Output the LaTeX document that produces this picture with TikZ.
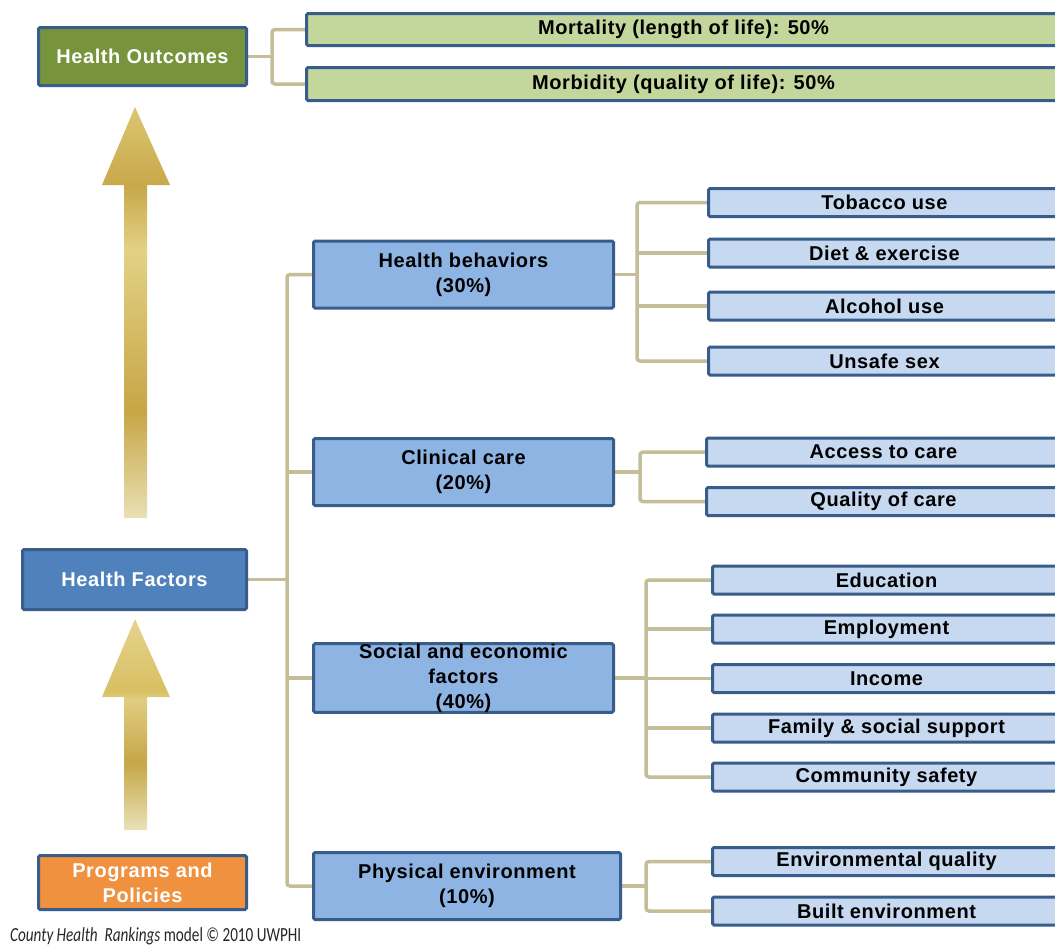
\documentclass[tikz,border=0pt]{standalone}
\usepackage{fontspec}
\newfontfamily\lab{Liberation Sans}[LetterSpace=3]
\newfontfamily\foot{Carlito}
\usetikzlibrary{backgrounds}
\definecolor{conn}{HTML}{C4BD97}
\definecolor{bord}{HTML}{385D8A}
\definecolor{hoC}{HTML}{77933C}
\definecolor{grC}{HTML}{C3D69B}
\definecolor{hfC}{HTML}{4F81BD}
\definecolor{ppC}{HTML}{F0913F}
\definecolor{midC}{HTML}{8EB4E3}
\definecolor{subC}{HTML}{C6D9F1}
\definecolor{gAa}{HTML}{E9E0B4}
\definecolor{gAb}{HTML}{C7A646}
\definecolor{gAc}{HTML}{E3D185}
\definecolor{gAd}{HTML}{C8A84A}
\definecolor{gAe}{HTML}{DCC671}
\definecolor{gBa}{HTML}{E9E1B6}
\definecolor{gBb}{HTML}{C6A748}
\definecolor{gBc}{HTML}{E0CD82}
\definecolor{gBd}{HTML}{D8BF63}
\definecolor{gBe}{HTML}{E6D48E}
\pgfdeclareverticalshading{arrowA}{100bp}{color(0bp)=(gAa); color(25bp)=(gAa); color(38bp)=(gAb); color(57.6bp)=(gAc); color(65.3bp)=(gAd); color(75bp)=(gAe); color(100bp)=(gAe)}
\pgfdeclareverticalshading{arrowB}{100bp}{color(0bp)=(gBa); color(25bp)=(gBa); color(41bp)=(gBb); color(56bp)=(gBc); color(58bp)=(gBd); color(75bp)=(gBe); color(100bp)=(gBe)}
\begin{document}
\begin{tikzpicture}[x=1pt,y=-1pt,
  box/.style={draw=bord, line width=3pt, rounded corners=1.5pt, inner sep=0pt, align=center,
    font=\lab\bfseries\fontsize{20}{25}\selectfont},
  subbox/.style={box, fill=subC, minimum height=28pt},
  midbox/.style={box, fill=midC, minimum width=300pt, minimum height=67pt},
  conn/.style={draw=conn, line width=3.5pt, rounded corners=3pt}]
\useasboundingbox (0,0) rectangle (1055,945);
\clip (0,0) rectangle (1055,945);

% arrows
\path[shading=arrowA] (135,107) -- (170,185) -- (147,185) -- (147,518) -- (124,518) -- (124,185) -- (102,185) -- cycle;
\path[shading=arrowB] (135,619) -- (170,697) -- (147,697) -- (147,830) -- (124,830) -- (124,697) -- (102,697) -- cycle;

% left column
\node[box, fill=hoC, text=white, minimum width=208pt, minimum height=58pt] (ho) at (142.5,56.5) {Health Outcomes};
\node[box, fill=hfC, text=white, minimum width=224pt, minimum height=60pt] (hf) at (134.5,579.5) {Health Factors};
\node[box, fill=ppC, text=white, minimum width=208pt, minimum height=54pt] (pp) at (142.5,882.5) {Programs and\\Policies};

% outcomes
\node[box, fill=grC, minimum width=754pt, minimum height=32pt] (mort) at (683.5,29.5) {Mortality (length of life): 50\%};
\node[box, fill=grC, minimum width=754pt, minimum height=33pt] (morb) at (683.5,84) {Morbidity (quality of life): 50\%};

% middle boxes
\node[midbox] (hb) at (463.5,274.5) {Health behaviors\\(30\%)};
\node[midbox] (cc) at (463.5,472) {Clinical care\\(20\%)};
\node[midbox] (se) at (463.5,678) {Social and economic\\factors\\(40\%)};
\node[midbox, minimum width=307pt] (pe) at (467,886) {Physical environment\\(10\%)};

% sub boxes
\node[subbox, minimum width=352pt] (tob) at (884.5,202.5) {Tobacco use};
\node[subbox, minimum width=352pt] (diet) at (884.5,253) {Diet \& exercise};
\node[subbox, minimum width=352pt] (alc) at (884.5,306) {Alcohol use};
\node[subbox, minimum width=352pt] (uns) at (884.5,361) {Unsafe sex};
\node[subbox, minimum width=354pt] (acc) at (883.5,452) {Access to care};
\node[subbox, minimum width=354pt] (qoc) at (883.5,501.5) {Quality of care};
\node[subbox, minimum width=348pt] (edu) at (886.5,580) {Education};
\node[subbox, minimum width=348pt] (emp) at (886.5,629) {Employment};
\node[subbox, minimum width=348pt] (inc) at (886.5,678.5) {Income};
\node[subbox, minimum width=348pt] (fam) at (886.5,728) {Family \& social support};
\node[subbox, minimum width=348pt] (com) at (886.5,777) {Community safety};
\node[subbox, minimum width=348pt] (env) at (886.5,861.5) {Environmental quality};
\node[subbox, minimum width=348pt] (blt) at (886.5,911) {Built environment};

% footer
\node[anchor=base west, inner sep=0pt, font=\foot\fontsize{20}{24}\selectfont, text=black!85] (ft) at (10,941)
  {\scalebox{0.76}[1]{\itshape County Health\ \ Rankings \upshape model \textcopyright{} 2010 UWPHI}};

% connectors
\path (272,0) coordinate (x0) (287,0) coordinate (tr) (637,0) coordinate (x1)
      (640,0) coordinate (x2) (646,0) coordinate (x3);
\begin{scope}[on background layer]
\fill[white] (0,0) rectangle (1055,945);
\draw[conn] (mort.west) -| (ho.east -| x0) |- (morb.west);
\draw[conn] (ho.east) -- (ho.east -| x0);
\draw[conn] (hb.west) -| (hf.east -| tr) |- (pe.west);
\draw[conn] (hf.east) -- (hf.east -| tr);
\draw[conn] (cc.west -| tr) -- (cc.west);
\draw[conn] (se.west -| tr) -- (se.west);
\draw[conn] (tob.west) -| (hb.east -| x1) |- (uns.west);
\draw[conn] (hb.east) -- (hb.east -| x1);
\draw[conn] (diet.west -| x1) -- (diet.west);
\draw[conn] (alc.west -| x1) -- (alc.west);
\draw[conn] (acc.west) -| (cc.east -| x2) |- (qoc.west);
\draw[conn] (cc.east) -- (cc.east -| x2);
\draw[conn] (edu.west) -| (se.east -| x3) |- (com.west);
\draw[conn] (se.east) -- (se.east -| x3);
\draw[conn] (emp.west -| x3) -- (emp.west);
\draw[conn] (inc.west -| x3) -- (inc.west);
\draw[conn] (fam.west -| x3) -- (fam.west);
\draw[conn] (env.west) -| (pe.east -| x3) |- (blt.west);
\draw[conn] (pe.east) -- (pe.east -| x3);
\end{scope}
\end{tikzpicture}
\end{document}
